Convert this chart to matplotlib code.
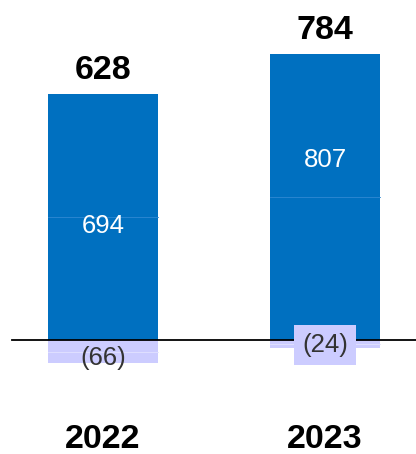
import matplotlib
matplotlib.use("Agg")
import matplotlib.pyplot as plt

years = ["2022", "2023"]
positive = [694, 807]
negative = [-66, -24]
totals = [628, 784]
pos_labels = ["694", "807"]
neg_labels = ["(66)", "(24)"]

BLUE = "#0070C0"
LAVENDER = "#CCCCFF"
SEAM = "#2F88D3"
FONT = "Liberation Sans"

fig = plt.figure(figsize=(4.16, 4.54), dpi=100)
ax = fig.add_axes([0, 0, 1, 1])

px = 0.354  # pixels per unit
ax.set_xlim(-103 / 222, 1 + 91 / 222)
ax.set_ylim(-114 / px, 340 / px)
ax.axis("off")

x = [0, 1]
w = 110 / 222

# positive bars drawn in two halves (visible seam in the original)
half = [v / 2 for v in positive]
ax.bar(x, half, width=w, color=BLUE, linewidth=0)
ax.bar(x, half, width=w, bottom=half, color=BLUE, linewidth=0)
for xi, h in zip(x, half):
    ax.plot([xi - w / 2, xi + w / 2], [h, h], color=SEAM, lw=0.6)

# negative bars
nhalf = [v / 2 for v in negative]
ax.bar(x, nhalf, width=w, color=LAVENDER, linewidth=0)
ax.bar(x, nhalf, width=w, bottom=nhalf, color=LAVENDER, linewidth=0)
for xi, h in zip(x, nhalf):
    ax.plot([xi - w / 2, xi + w / 2], [h, h], color="#E2E2FF", lw=0.6)

# baseline
ax.plot([-91 / 222, 1 + 91 / 222], [0, 0], color="black", lw=1.3, zorder=5)

# labels inside the bars
pos_y = [322, 508]
for xi, yv, s in zip(x, pos_y, pos_labels):
    ax.text(xi, yv, s, ha="center", va="center", color="white",
            fontsize=18.5, family=FONT)

ax.text(x[0], -51, neg_labels[0], ha="center", va="center", color="#333333",
        fontsize=18.5, family=FONT, zorder=6)
ax.text(x[1], -14, neg_labels[1], ha="center", va="center", color="#333333",
        fontsize=18.5, family=FONT, zorder=6,
        bbox=dict(boxstyle="square,pad=0.3", facecolor=LAVENDER, edgecolor="none"))

# totals above bars
for xi, p, t in zip(x, positive, totals):
    ax.text(xi, p + 23 / px + 2, str(t), ha="center", va="center",
            fontsize=24.5, fontweight="bold", family=FONT)

# year labels
for xi, yr in zip(x, years):
    ax.text(xi, -(439 - 340) / px, yr, ha="center", va="center",
            fontsize=24.5, fontweight="bold", family=FONT)

fig.savefig("out.png", dpi=100)
